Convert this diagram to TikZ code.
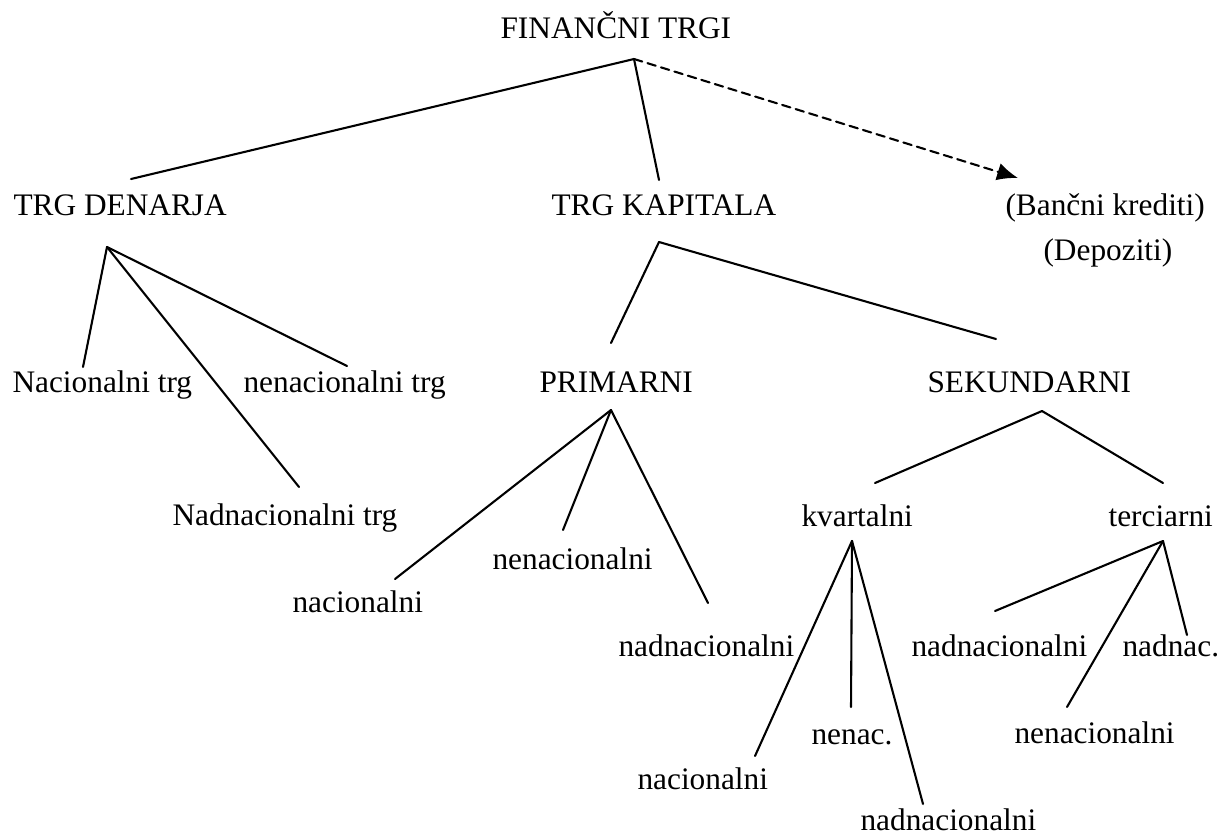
\documentclass[tikz,border=0pt]{standalone}
\usepackage{fontspec}
\setmainfont{Liberation Serif}
\usetikzlibrary{arrows.meta}
\begin{document}
\begin{tikzpicture}[x=0.383pt,y=-0.383pt,line cap=round,line join=round,
  txt/.style={anchor=base west,inner sep=0pt,font=\fontsize{12}{14}\selectfont},
  veja/.style={line width=0.8pt}]
  \useasboundingbox (0,0) rectangle (1229,836);
  % besedila
  \node[txt] (ft) at (500,38) {FINANČNI TRGI};
  \node[txt] (td) at (13,215) {TRG DENARJA};
  \node[txt] (tk) at (551,215) {TRG KAPITALA};
  \node[txt] (bk) at (1005,215) {(Bančni krediti)};
  \node[txt] (dep) at (1043,260) {(Depoziti)};
  \node[txt] (nac) at (12,392) {Nacionalni trg};
  \node[txt] (nen) at (243,392) {nenacionalni trg};
  \node[txt] (nad) at (172,525) {Nadnacionalni trg};
  \node[txt] (prim) at (539,392) {PRIMARNI};
  \node[txt] (sek) at (927,392) {SEKUNDARNI};
  \node[txt] (pnen) at (492,569) {nenacionalni};
  \node[txt] (pnac) at (292,612) {nacionalni};
  \node[txt] (pnad) at (618,656) {nadnacionalni};
  \node[txt] (kv) at (801,526) {kvartalni};
  \node[txt] (ter) at (1108,526) {terciarni};
  \node[txt] (kvnen) at (811,744) {nenac.};
  \node[txt] (kvnac) at (637,789) {nacionalni};
  \node[txt] (kvnad) at (860,830) {nadnacionalni};
  \node[txt] (tnad) at (911,656) {nadnacionalni};
  \node[txt] (tnadk) at (1122,656) {nadnac.};
  \node[txt] (tnen) at (1014,743) {nenacionalni};
  % vrhovi in konci vej
  \coordinate (ft-a) at (634,59);
  \coordinate (td-e) at (131,179);
  \coordinate (tk-e) at (659,180);
  \coordinate (bk-e) at (1018,178);
  \coordinate (td-a) at (107,247);
  \coordinate (nac-e) at (83,367);
  \coordinate (nen-e) at (347,366);
  \coordinate (nad-e) at (299,487);
  \coordinate (tk-a) at (659,242);
  \coordinate (prim-e) at (611,343);
  \coordinate (sek-e) at (996,339);
  \coordinate (prim-a) at (611,410);
  \coordinate (pnac-e) at (395,579);
  \coordinate (pnen-e) at (563,530);
  \coordinate (pnad-e) at (708,603);
  \coordinate (sek-a) at (1042,411);
  \coordinate (kv-e) at (875,483);
  \coordinate (ter-e) at (1163,483);
  \coordinate (kv-a) at (852,541);
  \coordinate (kvnac-e) at (755,756);
  \coordinate (kvnen-e) at (851,707);
  \coordinate (kvnad-e) at (923,804);
  \coordinate (ter-a) at (1163,541);
  \coordinate (tnad-e) at (995,611);
  \coordinate (tnen-e) at (1067,707);
  \coordinate (tnadk-e) at (1187,635);
  % veje
  \draw[veja] (ft-a) -- (td-e);
  \draw[veja] (ft-a) -- (tk-e);
  \draw[veja,dash pattern=on 3.3pt off 2.1pt,-{Latex[length=8pt,width=6.8pt]}] (ft-a) -- (bk-e);
  \foreach \c in {nac-e,nen-e,nad-e}
    \draw[veja] (td-a) -- (\c);
  \foreach \c in {prim-e,sek-e}
    \draw[veja] (tk-a) -- (\c);
  \foreach \c in {pnac-e,pnen-e,pnad-e}
    \draw[veja] (prim-a) -- (\c);
  \foreach \c in {kv-e,ter-e}
    \draw[veja] (sek-a) -- (\c);
  \foreach \c in {kvnac-e,kvnen-e,kvnad-e}
    \draw[veja] (kv-a) -- (\c);
  \foreach \c in {tnad-e,tnen-e,tnadk-e}
    \draw[veja] (ter-a) -- (\c);
\end{tikzpicture}
\end{document}
